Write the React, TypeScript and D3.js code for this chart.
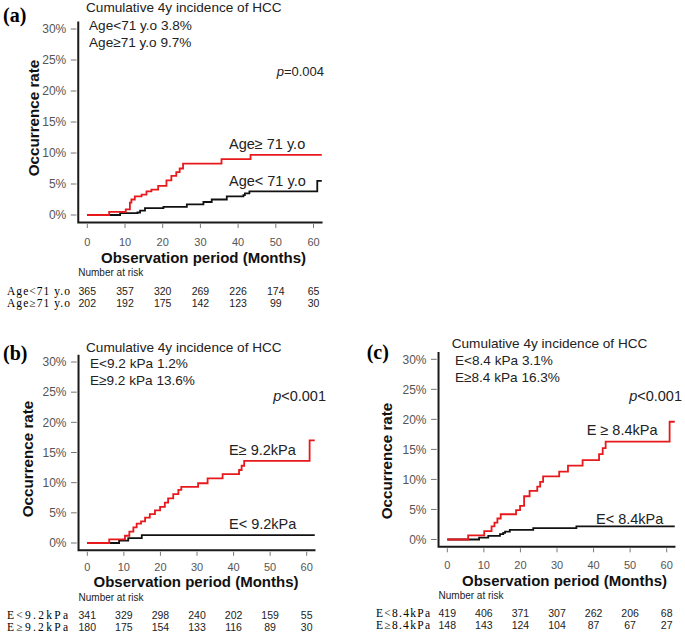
import React from "react";
import * as d3 from "d3";

const monthTicks = [0, 10, 20, 30, 40, 50, 60];
const rateTicks = [0, 5, 10, 15, 20, 25, 30];
const lastMonth = 62.2;

// (a) age
const ageYoungTimes = [0, 8.7, 13.3, 14.0, 15.3, 20.2, 26.4, 30.8, 33.0, 37.0, 41.4, 41.8, 43.0, 61.0];
const ageYoungRates = [0, 0.3, 0.4, 0.7, 1.1, 1.3, 1.7, 2.1, 2.5, 3.0, 3.2, 3.5, 3.8, 5.5];
const ageOldTimes = [0, 5.8, 10.2, 11.3, 11.7, 12.6, 14.4, 15.7, 17.0, 18.8, 21.0, 22.3, 23.6, 24.5, 25.4, 35.6, 43.3];
const ageOldRates = [0, 0.5, 0.9, 2.0, 2.5, 3.0, 3.3, 3.8, 4.1, 4.7, 5.6, 6.3, 6.9, 7.5, 8.3, 9.0, 9.7];
const ageYoungRisk = [365, 357, 320, 269, 226, 174, 65];
const ageOldRisk = [202, 192, 175, 142, 123, 99, 30];

// (b) E 9.2 kPa
const eLow92Times = [0, 8.7, 11.2, 14.9];
const eLow92Rates = [0, 0.4, 0.8, 1.3];
const eHigh92Times = [0, 6.0, 10.3, 11.5, 12.6, 13.5, 14.7, 15.8, 17.1, 18.5, 19.9, 21.2, 22.1, 23.5, 24.9, 25.7, 30.3, 32.9, 37.0, 41.5, 42.2, 42.9, 60.8];
const eHigh92Rates = [0, 0.6, 1.2, 1.9, 2.6, 3.2, 3.6, 4.2, 4.8, 5.4, 6.0, 6.7, 7.4, 8.1, 8.8, 9.3, 9.9, 10.7, 11.4, 12.1, 12.8, 13.6, 17.0];
const eLow92Risk = [341, 329, 298, 240, 202, 159, 55];
const eHigh92Risk = [180, 175, 154, 133, 116, 89, 30];

// (c) E 8.4 kPa
const eLow84Times = [0, 8.7, 11.2, 14.4, 15.3, 15.8, 17.1, 23.5, 35.3];
const eLow84Rates = [0, 0.3, 0.6, 0.9, 1.1, 1.3, 1.6, 1.9, 2.2];
const eHigh84Times = [0, 5.7, 10.1, 12.1, 12.9, 13.7, 14.6, 18.8, 19.9, 21.0, 22.5, 24.6, 25.4, 26.2, 30.6, 33.0, 37.0, 41.5, 42.5, 43.3, 60.8];
const eHigh84Rates = [0, 0.7, 1.4, 2.2, 2.8, 3.5, 4.2, 4.9, 5.6, 7.2, 8.1, 8.8, 9.6, 10.5, 11.3, 12.3, 13.2, 14.2, 15.2, 16.3, 19.6];
const eLow84Risk = [419, 406, 371, 307, 262, 206, 68];
const eHigh84Risk = [148, 143, 124, 104, 87, 67, 27];

const sans = "'Liberation Sans', Arial, sans-serif";
const serif = "'Liberation Serif', 'Times New Roman', serif";
const RED = "#e8191c";

const toSteps = (times: number[], rates: number[]) =>
  times.map((t, i) => [t, rates[i]] as [number, number]).concat([[lastMonth, rates[rates.length - 1]]]);

type P = [number, number];

function Panel({ lay, letter, stat1, stat2, pText, hiLabel, loLabel, lo, hi, rowLo, rowHi, riskLo, riskHi }: any) {
  const x = d3.scaleLinear().domain([0, 60]).range(lay.xr);
  const y = d3.scaleLinear().domain([0, 30]).range(lay.yr);
  const line = d3.line<P>().x(d => x(d[0])).y(d => y(d[1])).curve(d3.curveStepAfter);
  const ax = x(-2.4);
  const ay = y(-1.2);
  return (
    <g>
      <text x={lay.letter[0]} y={lay.letter[1]} fontFamily={serif} fontWeight="bold" fontSize={20}>{letter}</text>
      <text x={lay.title[0]} y={lay.title[1]} fontFamily={sans} fontSize={13.6} fill="#222">Cumulative 4y incidence of HCC</text>
      <text x={lay.stat[0]} y={lay.stat[1]} fontFamily={sans} fontSize={13.6} fill="#222">{stat1}</text>
      <text x={lay.stat[0]} y={lay.stat[1] + 16.5} fontFamily={sans} fontSize={13.6} fill="#222">{stat2}</text>
      <text x={lay.p[0]} y={lay.p[1]} textAnchor="end" fontFamily={sans} fontSize={lay.pSize} fill="#222">
        <tspan fontStyle="italic">p</tspan>{pText}
      </text>

      {rateTicks.map(t => (
        <g key={t}>
          <line x1={ax - 7.5} x2={ax - 1.8} y1={y(t)} y2={y(t)} stroke="#777" strokeWidth={1} />
          <text x={ax - 12} y={y(t) + 4.3} textAnchor="end" fontFamily={sans} fontSize={12} fill="#555">{t}%</text>
        </g>
      ))}
      {monthTicks.map(t => (
        <g key={t}>
          <line x1={x(t)} x2={x(t)} y1={ay + 1.6} y2={ay + 5.6} stroke="#777" strokeWidth={1} />
          <text x={x(t)} y={lay.tickY} textAnchor="middle" fontFamily={sans} fontSize={11} fill="#555">{t}</text>
        </g>
      ))}

      <path d={`M${ax},${y(31.2)}V${ay}H${x(62.4)}`} fill="none" stroke="#1a1a1a" strokeWidth={2} />

      <path d={line(lo) || ""} fill="none" stroke="#111" strokeWidth={1.8} />
      <path d={line(hi) || ""} fill="none" stroke={RED} strokeWidth={1.8} />

      <text x={lay.hiLab[0]} y={lay.hiLab[1]} fontFamily={sans} fontSize={14.5} fill="#222">{hiLabel}</text>
      <text x={lay.loLab[0]} y={lay.loLab[1]} fontFamily={sans} fontSize={14.5} fill="#222">{loLabel}</text>

      <text transform={`translate(${lay.yLab[0]},${lay.yLab[1]}) rotate(-90)`} textAnchor="middle" dominantBaseline="central"
        fontFamily={sans} fontWeight="bold" fontSize={15.2} fill="#111">Occurrence rate</text>
      <text x={lay.xLab[0]} y={lay.xLab[1]} textAnchor="middle" fontFamily={sans} fontWeight="bold" fontSize={15} fill="#111">Observation period  (Months)</text>

      <text x={ax} y={lay.nar} fontFamily={sans} fontSize={10} fill="#222">Number at risk</text>
      <text x={lay.rowX} y={lay.rows[0]} fontFamily={serif} fontSize={11.5} textLength={lay.rowW} lengthAdjust="spacing">{rowLo}</text>
      <text x={lay.rowX} y={lay.rows[1]} fontFamily={serif} fontSize={11.5} textLength={lay.rowW} lengthAdjust="spacing">{rowHi}</text>
      {monthTicks.map((t, i) => (
        <g key={t}>
          <text x={x(t)} y={lay.rows[0]} textAnchor="middle" fontFamily={sans} fontSize={10.5} fill="#222">{riskLo[i]}</text>
          <text x={x(t)} y={lay.rows[1]} textAnchor="middle" fontFamily={sans} fontSize={10.5} fill="#222">{riskHi[i]}</text>
        </g>
      ))}
    </g>
  );
}

const layA = {
  xr: [87.3, 313.5], yr: [215, 29], letter: [3, 22], title: [86, 12], stat: [89, 30], p: [324, 76], pSize: 13,
  hiLab: [229, 148.5], loLab: [229, 185.5], yLab: [33, 118], tickY: 245.7, xLab: [203.5, 262.5],
  nar: 276.2, rows: [294.5, 307], rowX: 7, rowW: 63,
};
const layB = {
  xr: [87.3, 306.7], yr: [543, 362], letter: [3, 360], title: [86, 352.3], stat: [90, 368.3], p: [326, 401], pSize: 14.5,
  hiLab: [229, 454.5], loLab: [229, 528.5], yLab: [27.5, 459], tickY: 570.7, xLab: [196, 587],
  nar: 600.8, rows: [618.8, 630.5], rowX: 7, rowW: 61,
};
const layC = {
  xr: [447.3, 666.7], yr: [539.5, 359.3], letter: [366.7, 358.5], title: [451.7, 348.3], stat: [455, 365], p: [682, 401], pSize: 14.5,
  hiLab: [586.7, 434.8], loLab: [596, 523.8], yLab: [386.7, 461], tickY: 569, xLab: [564.5, 586],
  nar: 598.5, rows: [616.5, 628.8], rowX: 376, rowW: 54,
};

export default function App() {
  return (
    <svg width={685} height={634} style={{ position: "absolute", left: 0, top: 0, background: "#fff" }}>
      <Panel lay={layA} letter="(a)" stat1="Age<71 y.o 3.8%" stat2="Age≥71 y.o 9.7%" pText="=0.004"
        hiLabel="Age≥ 71 y.o" loLabel="Age< 71 y.o"
        lo={toSteps(ageYoungTimes, ageYoungRates)} hi={toSteps(ageOldTimes, ageOldRates)}
        rowLo="Age<71 y.o" rowHi="Age≥71 y.o" riskLo={ageYoungRisk} riskHi={ageOldRisk} />
      <Panel lay={layB} letter="(b)" stat1="E<9.2 kPa 1.2%" stat2="E≥9.2 kPa 13.6%" pText="<0.001"
        hiLabel="E≥ 9.2kPa" loLabel="E< 9.2kPa"
        lo={toSteps(eLow92Times, eLow92Rates)} hi={toSteps(eHigh92Times, eHigh92Rates)}
        rowLo="E<9.2kPa" rowHi="E≥9.2kPa" riskLo={eLow92Risk} riskHi={eHigh92Risk} />
      <Panel lay={layC} letter="(c)" stat1="E<8.4 kPa 3.1%" stat2="E≥8.4 kPa 16.3%" pText="<0.001"
        hiLabel="E ≥ 8.4kPa" loLabel="E< 8.4kPa"
        lo={toSteps(eLow84Times, eLow84Rates)} hi={toSteps(eHigh84Times, eHigh84Rates)}
        rowLo="E<8.4kPa" rowHi="E≥8.4kPa" riskLo={eLow84Risk} riskHi={eHigh84Risk} />
    </svg>
  );
}
